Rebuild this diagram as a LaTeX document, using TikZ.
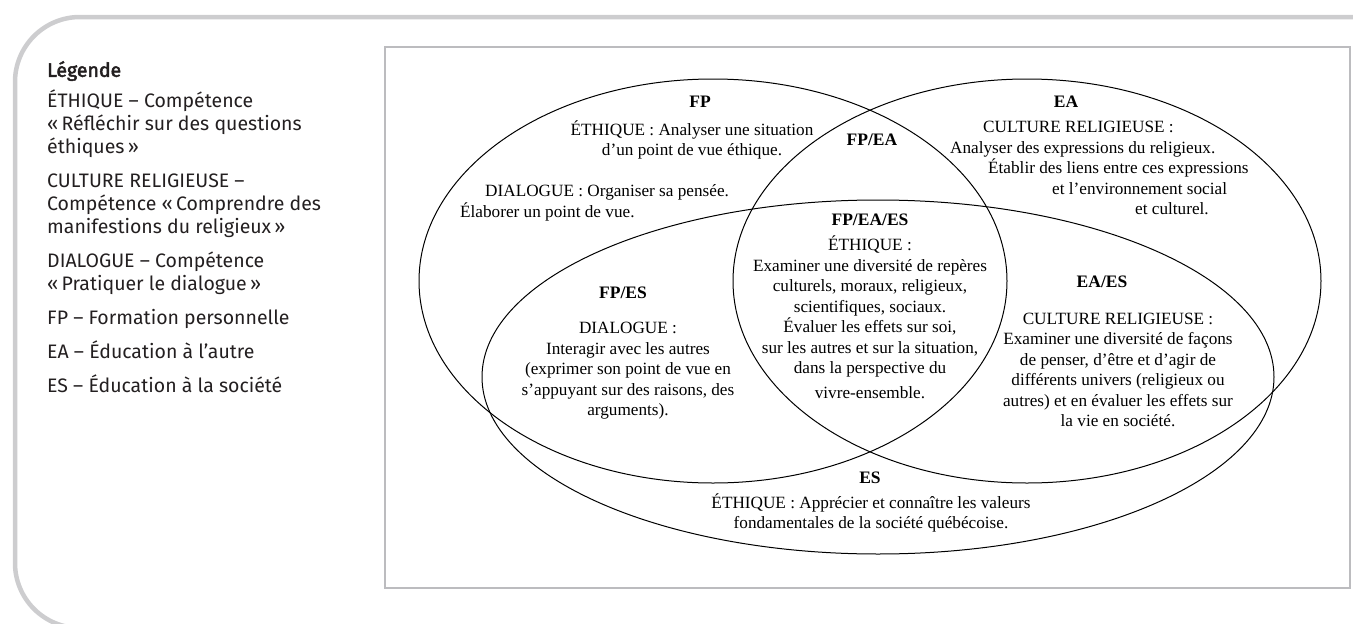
\documentclass[tikz,border=0pt]{standalone}
\usepackage{fontspec}
\setmainfont{Liberation Serif}
\newfontfamily\legendfont{Fira Sans}
\newfontfamily\legendhead[FakeBold=2.5]{Fira Sans}
\usetikzlibrary{positioning}

\definecolor{framegray}{RGB}{205,205,207}
\definecolor{boxgray}{RGB}{188,188,191}
\definecolor{legendink}{RGB}{35,31,32}

\tikzset{
  venn/.style={line width=1pt},
  zone/.style={font=\fontsize{17.5}{20}\selectfont\bfseries, inner sep=0pt},
  note/.style={font=\fontsize{17.2}{20.5}\selectfont, align=center, inner sep=0pt},
  legend/.style={font=\legendfont\fontsize{19.5}{23}\selectfont, text=legendink,
                 anchor=north west, align=left, inner sep=0pt}
}

\begin{document}
\begin{tikzpicture}[x=1pt,y=-1pt]
\useasboundingbox (0,0) rectangle (1353,624);

% frame and box
\draw[framegray, line width=4.5pt, rounded corners=65pt]
  (1360,17) -- (15,17) -- (15,628) -- (300,628);
\draw[boxgray, line width=2.2pt] (385,47) rectangle (1350,588);

\node[legend] (legend) at (47,61) {%
  {\legendhead Légende}\\[8pt]
  ÉTHIQUE – Compétence\\
  «\,Réfléchir sur des questions\\
  éthiques\,»\\[11pt]
  CULTURE RELIGIEUSE –\\
  Compétence «\,Comprendre des\\
  manifestions du religieux\,»\\[11pt]
  DIALOGUE – Compétence\\
  «\,Pratiquer le dialogue\,»\\[11pt]
  FP – Formation personnelle\\[11pt]
  EA – Éducation à l’autre\\[11pt]
  ES – Éducation à la société};

% the three sets
\draw[venn] (713,281) ellipse [x radius=294, y radius=202];
\draw[venn] (1027,281) ellipse [x radius=294, y radius=202];
\draw[venn] (878,377) ellipse [x radius=396, y radius=177];

% FP
\node[zone] (fp) at (700,102) {FP};
\node[note] (fpeth) at (692,140) {ÉTHIQUE : Analyser une situation\\ d’un point de vue éthique.};
\node[note, align=left, anchor=west] (fpdia) at (460,203)
  {\hspace*{25pt}DIALOGUE : Organiser sa pensée.\\ Élaborer un point de vue.};

% EA
\node[zone] (ea) at (1066,102) {EA};
\node[note, align=left, anchor=west] (eacul) at (950,168)
  {\hspace*{33pt}CULTURE RELIGIEUSE :\\
   Analyser des expressions du religieux.\\
   \hspace*{38pt}Établir des liens entre ces expressions\\
   \hspace*{102pt}et l’environnement social\\
   \hspace*{185pt}et culturel.};

\node[zone] (fpea) at (872,140) {FP/EA};

% FP/EA/ES
\node[zone] (fpeaes) at (870,220) {FP/EA/ES};
\node[note] (fpeaeseth) at (870,317)
  {ÉTHIQUE :\\
   Examiner une diversité de repères\\
   culturels, moraux, religieux,\\
   scientifiques, sociaux.\\
   Évaluer les effets sur soi,\\
   sur les autres et sur la situation,\\
   dans la perspective du\\[4pt]
   vivre-ensemble.};

% FP/ES
\node[zone] (fpes) at (623,293) {FP/ES};
\node[note] (fpesdia) at (628,371)
  {DIALOGUE :\\
   Interagir avec les autres\\
   (exprimer son point de vue en\\
   s’appuyant sur des raisons, des\\
   arguments).};

% EA/ES
\node[zone] (eaes) at (1102,282) {EA/ES};
\node[note] (eaescul) at (1118,370)
  {CULTURE RELIGIEUSE :\\
   Examiner une diversité de façons\\
   de penser, d’être et d’agir de\\
   différents univers (religieux ou\\
   autres) et en évaluer les effets sur\\
   la vie en société.};

% ES
\node[zone] (es) at (870,478) {ES};
\node[note] (eseth) at (871,513)
  {ÉTHIQUE : Apprécier et connaître les valeurs\\
   fondamentales de la société québécoise.};
\end{tikzpicture}
\end{document}
